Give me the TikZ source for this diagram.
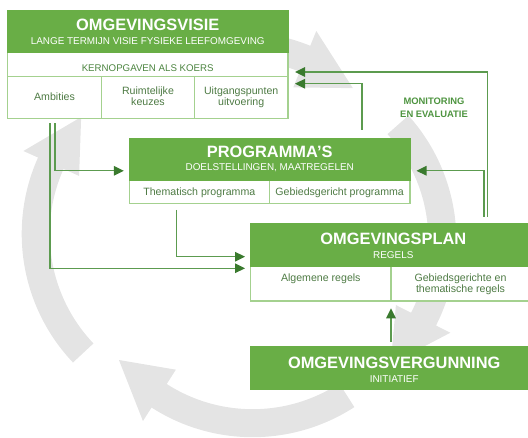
\documentclass[tikz,border=0pt]{standalone}
\usepackage{fontspec}
\setmainfont{Liberation Sans}
\usetikzlibrary{arrows.meta}
\definecolor{hdrgreen}{HTML}{69AE46}
\definecolor{bordergreen}{HTML}{A4D18F}
\definecolor{txtgreen}{HTML}{4E7B44}
\definecolor{kerngreen}{HTML}{4C8540}
\definecolor{linegreen}{HTML}{5C9B4F}
\definecolor{arrowdk}{HTML}{3A7A2E}
\definecolor{ringgray}{HTML}{E4E4E4}
\definecolor{monigreen}{HTML}{4E9440}
\tikzset{
  hdr/.style={fill=hdrgreen, draw=hdrgreen, line width=1.2pt, inner sep=0pt, outer sep=0pt, anchor=north west},
  wbox/.style={fill=white, draw=bordergreen, line width=1.2pt, inner sep=0pt, outer sep=0pt, anchor=north west},
  divline/.style={draw=bordergreen, line width=1.2pt},
  conn/.style={draw=linegreen, line width=1.3pt, -{Triangle[length=10pt,width=9.5pt,color=arrowdk]}},
  ttl/.style={font=\bfseries\fontsize{16.4}{18}\selectfont, text=white, anchor=base, inner sep=0pt},
  subttl/.style={font=\fontsize{9.9}{11}\selectfont, text=white, anchor=base, inner sep=0pt},
  cell/.style={font=\fontsize{10.6}{11.3}\selectfont, text=txtgreen, anchor=base, inner sep=0pt},
  kern/.style={font=\fontsize{9.7}{11}\selectfont, text=kerngreen, anchor=base, inner sep=0pt},
  moni/.style={font=\bfseries\fontsize{9.4}{11}\selectfont, text=monigreen, anchor=base, inner sep=0pt},
  ringarc/.style={draw=ringgray, line width=28pt},
  ringhead/.style={fill=ringgray}
}
\begin{document}
\begin{tikzpicture}[x=1pt,y=1pt]
\useasboundingbox (0,0) rectangle (528,437);

% grey cycle arrows: centre x / centre y / tail angle / head-base angle / tip angle (radius 173)
\foreach \cx/\cy/\ta/\tb/\tt in {208.7/203.1/223.5/155.9/137.5, 239.6/218.1/125/67.8/49.1, 269.4/196.4/42/-27/-45.5, 252.6/186.8/303/237.3/219.4}{
  \pgfmathsetmacro\te{\tb-1.5}
  \draw[ringarc] ({\cx+173*cos(\ta)},{\cy+173*sin(\ta)}) arc[start angle=\ta, end angle=\te, radius=173];
  \fill[ringhead] ({\cx+203*cos(\tb)},{\cy+203*sin(\tb)}) -- ({\cx+173*cos(\tt)},{\cy+173*sin(\tt)}) -- ({\cx+142*cos(\tb)},{\cy+142*sin(\tb)}) -- cycle;
}

% OMGEVINGSVISIE
\node[wbox, minimum width=280.7pt, minimum height=107.6pt] (visie) at (7.3,426.3) {};
\node[hdr, minimum width=280.7pt, minimum height=42pt] (visieH) at (7.3,426.3) {};
\draw[divline] (7.3,360.3) -- (288,360.3);
\draw[divline] (101.7,360.3) -- (101.7,318.7);
\draw[divline] (194.3,360.3) -- (194.3,318.7);
\node[ttl] (visieT) at (147.7,406) {OMGEVINGSVISIE};
\node[subttl] (visieS) at (147.7,392) {LANGE TERMIJN VISIE FYSIEKE LEEFOMGEVING};
\node[kern] (kernT) at (147.7,365.3) {KERNOPGAVEN ALS KOERS};
\node[cell] (amb) at (54.5,336.3) {Ambities};
\node[cell] (ruim1) at (148,342.3) {Ruimtelijke};
\node[cell] (ruim2) at (148,331) {keuzes};
\node[cell] (uitg1) at (241.2,342.3) {Uitgangspunten};
\node[cell] (uitg2) at (241.2,331) {uitvoering};

% PROGRAMMA'S
\node[wbox, minimum width=280.7pt, minimum height=65pt] (prog) at (129.3,298.7) {};
\node[hdr, minimum width=280.7pt, minimum height=42.4pt] (progH) at (129.3,298.7) {};
\draw[divline] (269.3,256.3) -- (269.3,233.7);
\node[ttl] (progT) at (269.7,279.7) {PROGRAMMA’S};
\node[subttl] (progS) at (269.7,266.3) {DOELSTELLINGEN, MAATREGELEN};
\node[cell] (them) at (199.3,241) {Thematisch programma};
\node[cell] (gebp) at (339.7,241) {Gebiedsgericht programma};

% OMGEVINGSPLAN
\node[wbox, minimum width=285.3pt, minimum height=77.7pt] (plan) at (250.7,213.7) {};
\node[hdr, minimum width=285.3pt, minimum height=43.4pt] (planH) at (250.7,213.7) {};
\draw[divline] (391,170.3) -- (391,136);
\node[ttl] (planT) at (393.3,192) {OMGEVINGSPLAN};
\node[subttl] (planS) at (393.3,178.3) {REGELS};
\node[cell] (alg) at (320.8,155.3) {Algemene regels};
\node[cell] (geb1) at (460.5,155.3) {Gebiedsgerichte en};
\node[cell] (geb2) at (460.5,144.3) {thematische regels};

% OMGEVINGSVERGUNNING
\node[hdr, minimum width=287pt, minimum height=42.3pt] (verg) at (250.5,90.3) {};
\node[ttl] (vergT) at (394.2,68) {OMGEVINGSVERGUNNING};
\node[subttl] (vergS) at (394.2,54) {INITIATIEF};

% monitoring label
\node[moni] (mon1) at (434,332) {MONITORING};
\node[moni] (mon2) at (434,319.3) {EN EVALUATIE};

% connectors
\coordinate (c1s) at (55,313.7);
\coordinate (c2s) at (50,313.7);
\coordinate (c3s) at (176.7,227);
\coordinate (c4s) at (391,95.3);
\coordinate (c5s) at (484,220.3);
\coordinate (c6s) at (487.5,220.3);
\coordinate (c7s) at (362,307);
\coordinate (c2e) at (245,168.7);
\coordinate (c3e) at (245,180.3);
\coordinate (c4e) at (391,128.7);
\coordinate (c6e) at (295,365);
\coordinate (c7e) at (295,353.3);

\draw[conn] (c1s) |- ([xshift=-5.5pt]prog.west);
\draw[conn] (c2s) |- (c2e);
\draw[conn] (c3s) |- (c3e);
\draw[conn] (c4s) -- (c4e);
\draw[conn] (c5s) |- ([xshift=6.5pt]prog.east);
\draw[conn] (c6s) |- (c6e);
\draw[conn] (c7s) |- (c7e);
\end{tikzpicture}
\end{document}
